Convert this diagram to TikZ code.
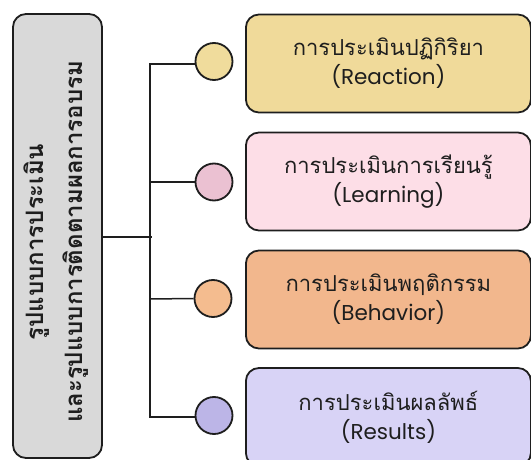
\documentclass[tikz,border=0pt]{standalone}
\usepackage{fontspec}
\setmainfont[Script=Thai]{Loma}
\newfontfamily\latinfont{Poppins}
\usetikzlibrary{positioning}
\definecolor{ink}{HTML}{1E1E1E}
\definecolor{grayfill}{HTML}{D9D9D9}
\definecolor{yelfill}{HTML}{F0DA9A}
\definecolor{yelcirc}{HTML}{F0DC9C}
\definecolor{pinkfill}{HTML}{FDDEE7}
\definecolor{pinkcirc}{HTML}{EBC1D2}
\definecolor{orgfill}{HTML}{F2B78D}
\definecolor{orgcirc}{HTML}{F4BC8F}
\definecolor{purfill}{HTML}{D8D3F6}
\definecolor{purcirc}{HTML}{BCB5E7}
\newcommand{\eng}[1]{{\latinfont\fontsize{21.5}{28}\selectfont #1}}
\tikzset{
  itembox/.style={draw=ink, line width=1.8pt, rounded corners=13pt, minimum width=285pt, minimum height=98pt, text=ink, font=\fontsize{22}{29}\selectfont, align=center, anchor=west},
  dot/.style={circle, draw=ink, line width=1.8pt, minimum size=37pt, inner sep=0pt},
  link/.style={draw=ink, line width=1.5pt},
}
\begin{document}
\begin{tikzpicture}[x=1pt,y=-1pt]
\useasboundingbox (0,0) rectangle (531,460);
\clip (0,0) rectangle (531,460);
% left box
\node[draw=ink, line width=1.8pt, fill=grayfill, rounded corners=13pt, minimum width=89pt, minimum height=444pt, inner sep=0pt] (main) at (57.5,236) {};
\node[rotate=90, text=ink, font=\bfseries\fontsize{24}{39}\selectfont, align=center] (maintext) at (56,242) {รูปแบบการประเมิน\\และรูปแบบการติดตามผลการอบรม};
% item boxes
\node[itembox, fill=yelfill] (b1) at (245,63.5) {การประเมินปฏิกิริยา\\\eng{(Reaction)}};
\node[itembox, fill=pinkfill] (b2) at (245,181.5) {การประเมินการเรียนรู้\\\eng{(Learning)}};
\node[itembox, fill=orgfill] (b3) at (245,299.5) {การประเมินพฤติกรรม\\\eng{(Behavior)}};
\node[itembox, fill=purfill] (b4) at (245,417) {การประเมินผลลัพธ์\\\eng{(Results)}};
% circles
\node[dot, fill=yelcirc] (c1) at (214,61.5) {};
\node[dot, fill=pinkcirc] (c2) at (214,182) {};
\node[dot, fill=orgcirc] (c3) at (213,298.5) {};
\node[dot, fill=purcirc] (c4) at (214,415.5) {};
% connectors
\coordinate (jn) at (152,237);
\coordinate (top) at (150,64);
\coordinate (bot) at (150,417);
\draw[link] (main.east |- jn) -- (jn);
\draw[link] (c1.west |- top) -- (top) -- (bot) -- (c4.west |- bot);
\draw[link] (150,182) -- (c2.west);
\draw[link] (150,299) -- (c3.west);
\end{tikzpicture}
\end{document}
